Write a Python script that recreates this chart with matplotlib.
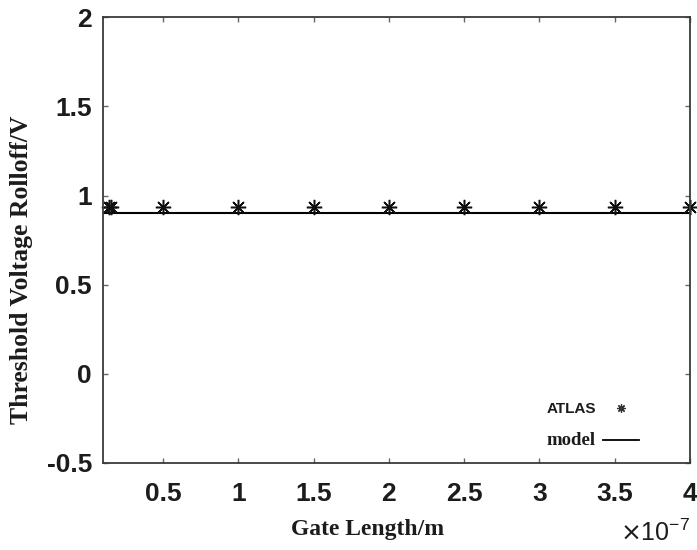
import matplotlib
matplotlib.use("Agg")
import matplotlib.pyplot as plt
from matplotlib.lines import Line2D
from matplotlib.ticker import FuncFormatter
import numpy as np

# gate length in units of 1e-7 m
atlas_len = [0.14, 0.155, 0.5, 1.0, 1.5, 2.0, 2.5, 3.0, 3.5, 4.0]
atlas_vt = [0.935, 0.935, 0.935, 0.935, 0.935, 0.935, 0.935, 0.935, 0.935, 0.935]
model_len = [0.1, 0.5, 1.0, 1.5, 2.0, 2.5, 3.0, 3.5, 4.0]
model_vt = [0.9, 0.9, 0.9, 0.9, 0.9, 0.9, 0.9, 0.9, 0.9]

x_ticks = [0.5, 1.0, 1.5, 2.0, 2.5, 3.0, 3.5, 4.0]
y_ticks = [-0.5, 0, 0.5, 1.0, 1.5, 2.0]

SCALE = 1e-7
TXT = "#1c1c1c"

fig = plt.figure(figsize=(6.97, 5.5), dpi=100)
ax = fig.add_axes([0.1478, 0.1582, 0.842, 0.8103])

ax.plot(np.array(model_len) * SCALE, model_vt, color="black", linewidth=1.5,
        label="model")
ax.plot(np.array(atlas_len) * SCALE, atlas_vt, linestyle="none",
        marker=(8, 2, 0), markersize=11, markeredgewidth=1.1, color="#111111",
        clip_on=False, label="ATLAS")

ax.set_xlim(0.1 * SCALE, 4.0 * SCALE)
ax.set_ylim(-0.5, 2.0)
ax.set_xticks(np.array(x_ticks) * SCALE)
ax.set_yticks(y_ticks)
ax.xaxis.set_major_formatter(FuncFormatter(lambda v, p: f"{v / SCALE:g}"))
ax.yaxis.set_major_formatter(FuncFormatter(lambda v, p: f"{v:g}"))

ax.tick_params(direction="in", length=3.5, width=1.0, colors="#666666",
               top=True, right=True)
ax.tick_params(axis="x", pad=14)
ax.tick_params(axis="y", pad=8)
for lab in ax.get_xticklabels() + ax.get_yticklabels():
    lab.set_fontfamily("Liberation Sans")
    lab.set_fontweight("bold")
    lab.set_fontsize(19)
    lab.set_color(TXT)

for s in ax.spines.values():
    s.set_color("#3a3a3a")
    s.set_linewidth(1.3)

ax.set_xlabel("Gate Length/m", family="Liberation Serif", weight="bold",
              size=17, color=TXT)
ax.set_ylabel("Threshold Voltage Rolloff/V", family="Liberation Serif",
              weight="bold", size=18.5, color=TXT)
ax.xaxis.set_label_coords(0.45, -0.125)
ax.yaxis.set_label_coords(-0.12, 0.434)

ax.text(1.0, -0.128, r"$\times\mathregular{10^{-7}}$", transform=ax.transAxes,
        ha="right", va="top", size=18, color=TXT, family="Liberation Sans")

handles = [
    Line2D([], [], linestyle="none", marker=(8, 2, 0), markersize=6,
           markeredgewidth=0.9, color="#333333"),
    Line2D([], [], color="black", linewidth=1.3),
]
leg = ax.legend(handles, ["ATLAS", "model"], loc="lower right",
                bbox_to_anchor=(0.923, 0.02), frameon=False, markerfirst=False,
                handlelength=2.6, handletextpad=0.5, labelspacing=1.1,
                borderaxespad=0.0)
t_atlas, t_model = leg.get_texts()
t_atlas.set_fontfamily("Liberation Sans")
t_atlas.set_fontweight("bold")
t_atlas.set_fontsize(11)
t_atlas.set_color(TXT)
t_model.set_fontfamily("Liberation Serif")
t_model.set_fontweight("bold")
t_model.set_fontsize(13.5)
t_model.set_color(TXT)

fig.savefig("out.png", dpi=100)
